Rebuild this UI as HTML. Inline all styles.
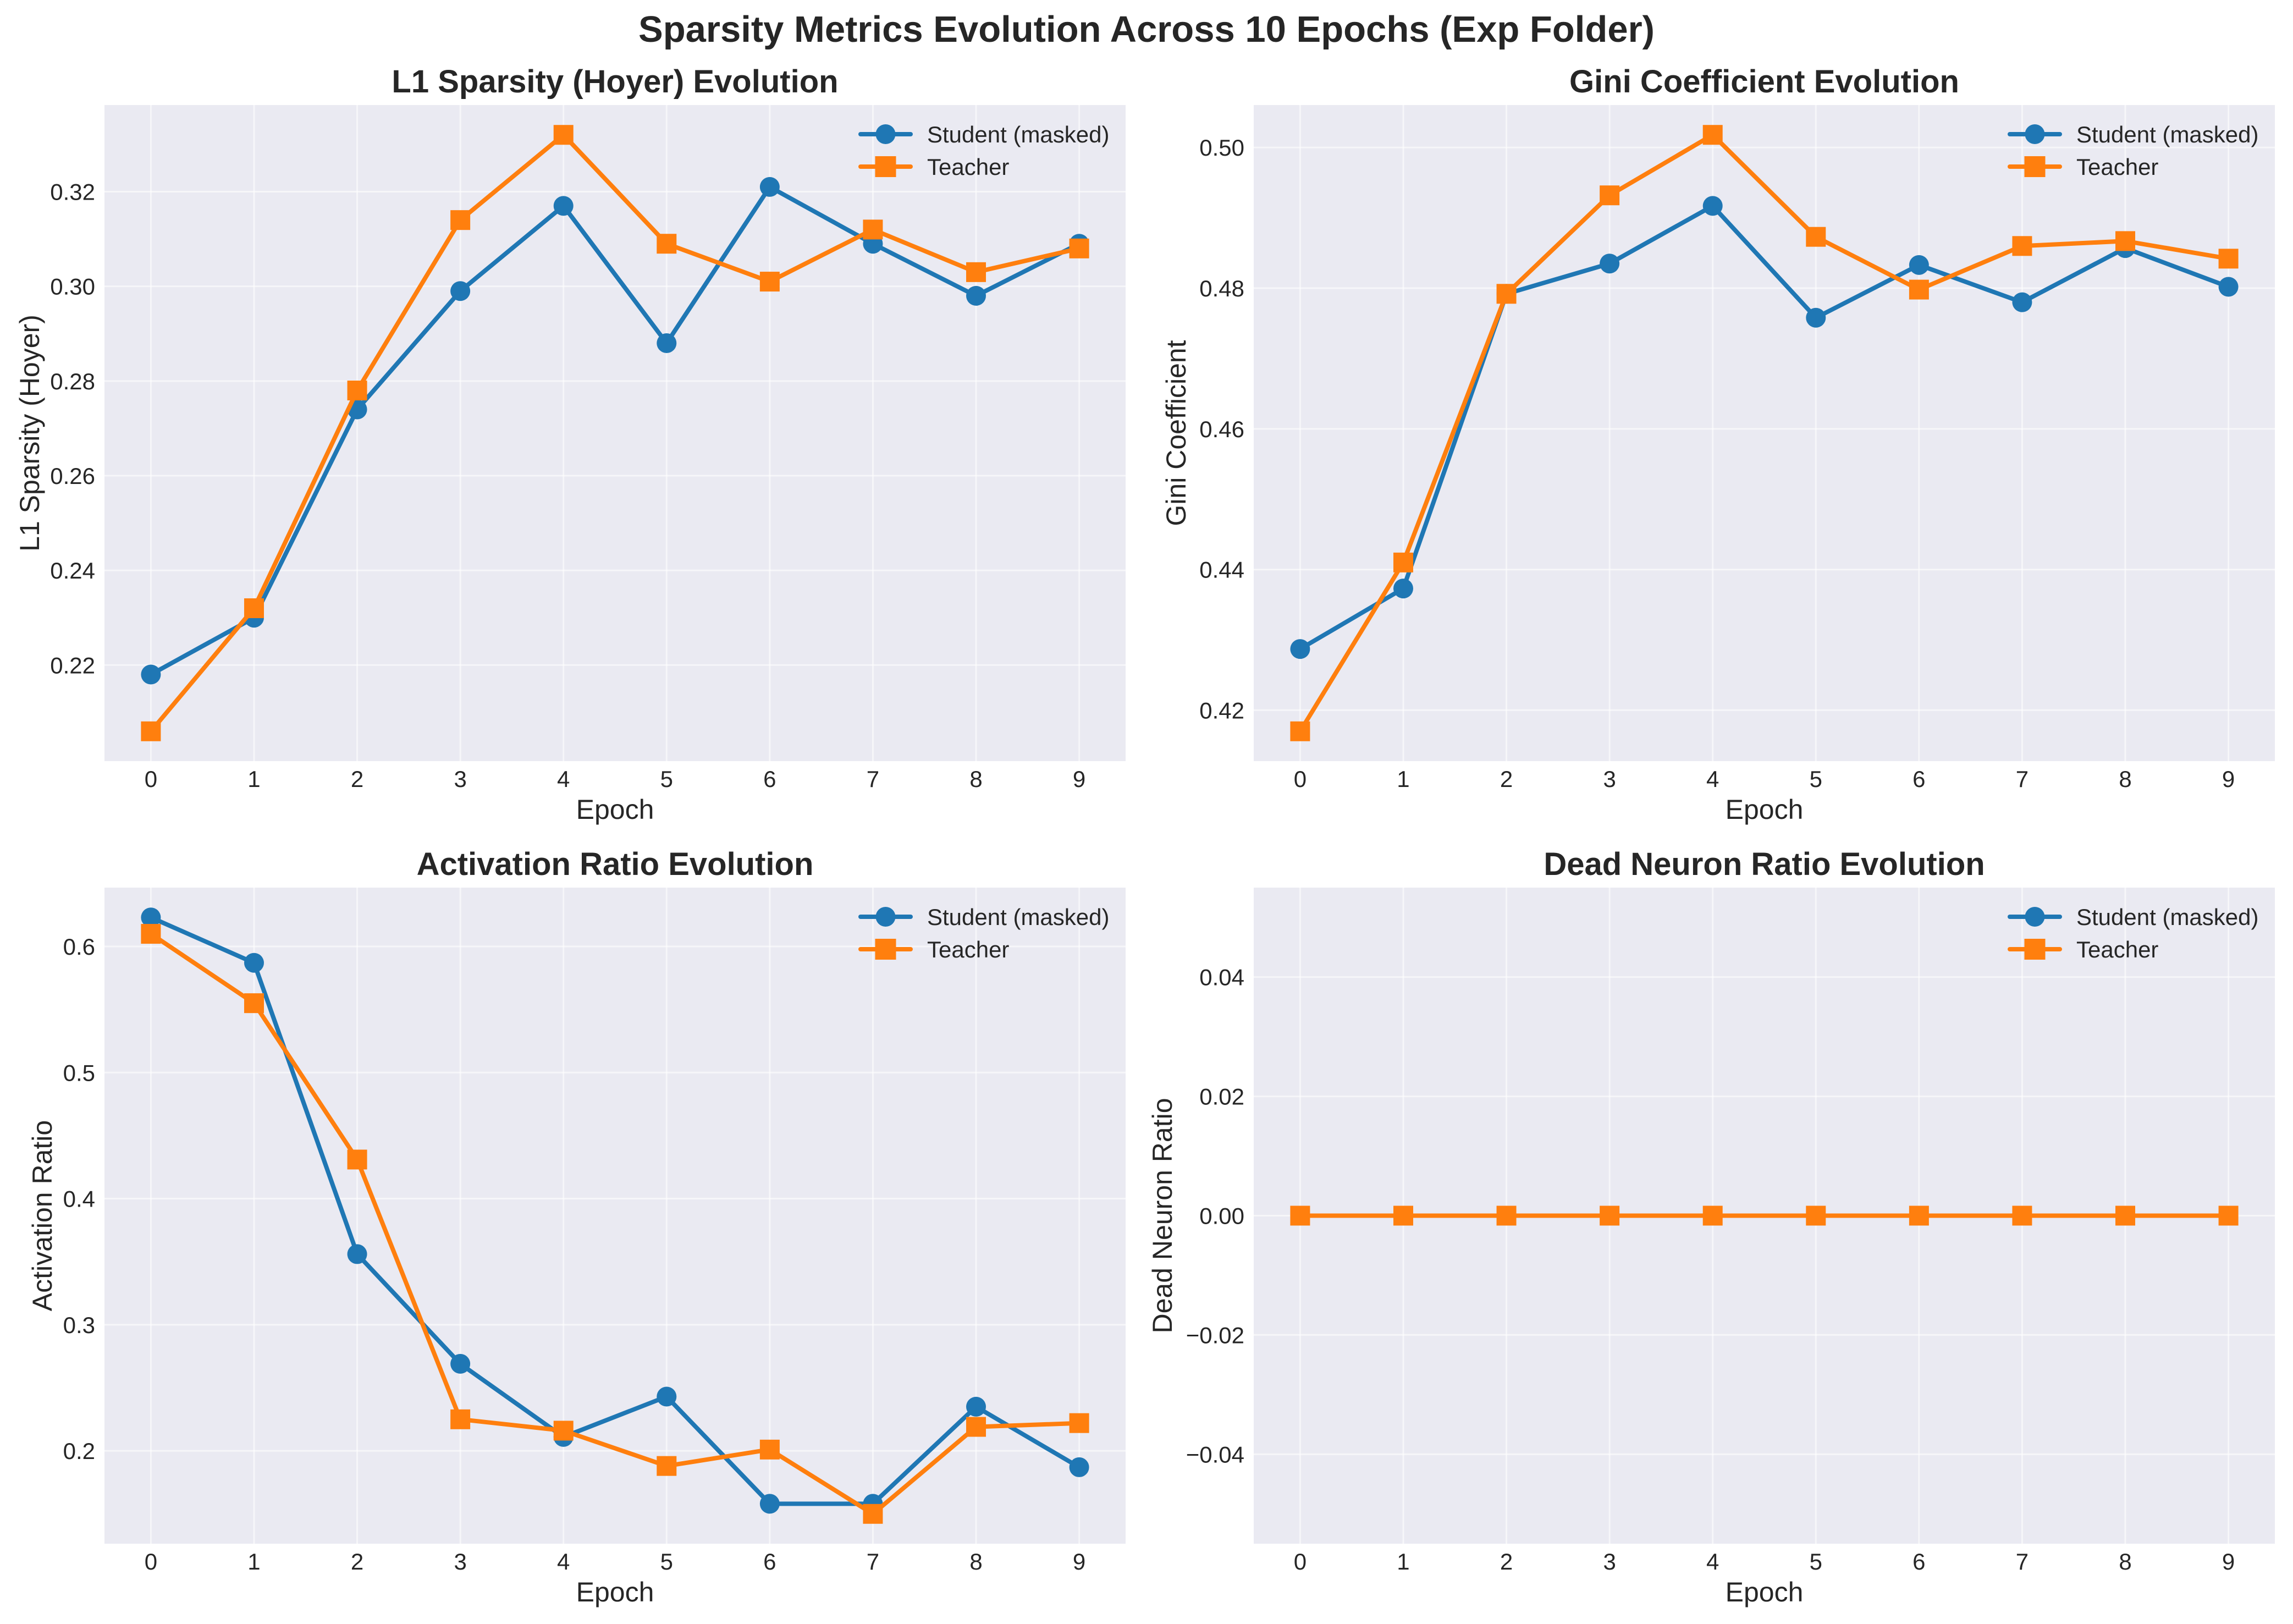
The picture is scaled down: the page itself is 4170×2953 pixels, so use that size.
<!DOCTYPE html>
<html><head><meta charset="utf-8">
<style>
html,body{margin:0;padding:0;background:#fff;}
svg{display:block;font-family:"Liberation Sans",Arial,sans-serif;}
</style></head>
<body>
<svg id="fig" xmlns="http://www.w3.org/2000/svg" width="4170" height="2953" viewBox="0 0 4170 2953">
<rect x="0" y="0" width="4170" height="2953" fill="#ffffff"/>
<text x="2085" y="76" text-anchor="middle" font-size="67" font-weight="bold" fill="#262626">Sparsity Metrics Evolution Across 10 Epochs (Exp Folder)</text>
</svg>
<script>
const epochs = [0,1,2,3,4,5,6,7,8,9];
const l1Student = [0.218,0.230,0.274,0.299,0.317,0.288,0.321,0.309,0.298,0.309];
const l1Teacher = [0.206,0.232,0.278,0.314,0.332,0.309,0.301,0.312,0.303,0.308];
const giniStudent = [0.4287,0.4373,0.4792,0.4835,0.4917,0.4758,0.4833,0.4780,0.4857,0.4802];
const giniTeacher = [0.4170,0.4410,0.4792,0.4932,0.5018,0.4873,0.4798,0.4860,0.4867,0.4842];
const actStudent = [0.623,0.587,0.356,0.269,0.211,0.243,0.158,0.158,0.235,0.187];
const actTeacher = [0.610,0.555,0.431,0.225,0.216,0.188,0.201,0.150,0.219,0.222];
const deadStudent = [0,0,0,0,0,0,0,0,0,0];
const deadTeacher = [0,0,0,0,0,0,0,0,0,0];
const l1Ticks = [0.22,0.24,0.26,0.28,0.30,0.32];
const giniTicks = [0.42,0.44,0.46,0.48,0.50];
const actTicks = [0.2,0.3,0.4,0.5,0.6];
const deadTicks = [-0.04,-0.02,0.00,0.02,0.04];
const legendLabels = ["Student (masked)","Teacher"];

const NS = "http://www.w3.org/2000/svg";
const svg = document.getElementById('fig');
function mk(tag, attrs, parent){
  const e = document.createElementNS(NS, tag);
  for (const k in attrs) e.setAttribute(k, attrs[k]);
  (parent||svg).appendChild(e);
  return e;
}
const BLUE = "#1f77b4", ORANGE = "#ff7f0e", TXT = "#262626";

function panel(cfg){
  const {left, top, width, height, title, ylabel, ylabelX, s, t, ticks, dec, key} = cfg;
  const g = mk('g', {});
  
  
  let lo = Math.min(...s, ...t), hi = Math.max(...s, ...t);
  let span = hi - lo;
  if (span === 0) { lo = lo - 0.055; hi = hi + 0.055; } else { lo -= span*0.05; hi += span*0.05; }
  const xlo = epochs[0] - 0.45, xhi = epochs[epochs.length-1] + 0.45;
  const X = v => left + (v - xlo) / (xhi - xlo) * width;
  const Y = v => top + height - (v - lo) / (hi - lo) * height;

  const bg = mk('rect', {x:left, y:top, width:width, height:height, fill:"#eaeaf2"}, g);
  
  

  epochs.forEach(e => {
    const gl = mk('line', {x1:X(e), x2:X(e), y1:top, y2:top+height, stroke:"#ffffff", 'stroke-width':3, 'stroke-opacity':0.55}, g);
    
    
    const tl = mk('text', {x:X(e), y:top+height+47, 'text-anchor':'middle', 'font-size':42, fill:TXT}, g);
    
    
    tl.textContent = String(e);
  });
  ticks.forEach(v => {
    const gl = mk('line', {x1:left, x2:left+width, y1:Y(v), y2:Y(v), stroke:"#ffffff", 'stroke-width':3, 'stroke-opacity':0.55}, g);
    
    
    const tl = mk('text', {x:left-17, y:Y(v)+15, 'text-anchor':'end', 'font-size':42, fill:TXT}, g);
    
    
    tl.textContent = v.toFixed(dec).replace('-', '\u2212');
  });

  const tt = mk('text', {x:left+width/2, y:top-23, 'text-anchor':'middle', 'font-size':58, 'font-weight':'bold', fill:TXT}, g);
  
  
  tt.textContent = title;
  const xl = mk('text', {x:left+width/2, y:top+height+105, 'text-anchor':'middle', 'font-size':50, fill:TXT}, g);
  
  
  xl.textContent = 'Epoch';
  const cy = top + height/2;
  const yl = mk('text', {x:ylabelX+18, y:cy, 'text-anchor':'middle', 'font-size':50, fill:TXT, transform:`rotate(-90 ${ylabelX+18} ${cy})`}, g);
  
  
  yl.textContent = ylabel;

  const series = [[s, BLUE, 'circle', 'student'], [t, ORANGE, 'square', 'teacher']];
  series.forEach(([vals, col, shape, nm]) => {
    const pts = vals.map((v,i) => X(epochs[i]).toFixed(1) + ',' + Y(v).toFixed(1)).join(' ');
    const pl = mk('polyline', {points:pts, fill:'none', stroke:col, 'stroke-width':8, 'stroke-linejoin':'round', 'stroke-linecap':'round'}, g);
    
    
    vals.forEach((v,i) => {
      let m;
      if (shape === 'circle') m = mk('circle', {cx:X(epochs[i]), cy:Y(v), r:18, fill:col}, g);
      else m = mk('rect', {x:X(epochs[i])-18, y:Y(v)-18, width:36, height:36, fill:col}, g);
      
      
    });
  });

  // legend
  const lg = mk('g', {}, g);
  
  
  const lx = left + width - 482;
  [[BLUE,'circle',53],[ORANGE,'square',112]].forEach(([col, shape, dy], k) => {
    const ly = top + dy;
    const ln = mk('line', {x1:lx, x2:lx+91, y1:ly, y2:ly, stroke:col, 'stroke-width':8, 'stroke-linecap':'round'}, lg);
    
    
    let m;
    if (shape === 'circle') m = mk('circle', {cx:lx+45.5, cy:ly, r:18, fill:col}, lg);
    else m = mk('rect', {x:lx+45.5-19, y:ly-19, width:38, height:38, fill:col}, lg);
    
    
    const tx = mk('text', {x:lx+121, y:ly+15, 'font-size':42, fill:TXT}, lg);
    
    
    tx.textContent = legendLabels[k];
  });
}

panel({left:190, top:191, width:1857, height:1193, title:'L1 Sparsity (Hoyer) Evolution', ylabel:'L1 Sparsity (Hoyer)', ylabelX:53, s:l1Student, t:l1Teacher, ticks:l1Ticks, dec:2, key:'l1'});
panel({left:2280, top:191, width:1857, height:1193, title:'Gini Coefficient Evolution', ylabel:'Gini Coefficient', ylabelX:2138, s:giniStudent, t:giniTeacher, ticks:giniTicks, dec:2, key:'gini'});
panel({left:190, top:1614, width:1857, height:1193, title:'Activation Ratio Evolution', ylabel:'Activation Ratio', ylabelX:76, s:actStudent, t:actTeacher, ticks:actTicks, dec:1, key:'activation'});
panel({left:2280, top:1614, width:1857, height:1193, title:'Dead Neuron Ratio Evolution', ylabel:'Dead Neuron Ratio', ylabelX:2113, s:deadStudent, t:deadTeacher, ticks:deadTicks, dec:2, key:'dead'});
</script>
</body></html>
